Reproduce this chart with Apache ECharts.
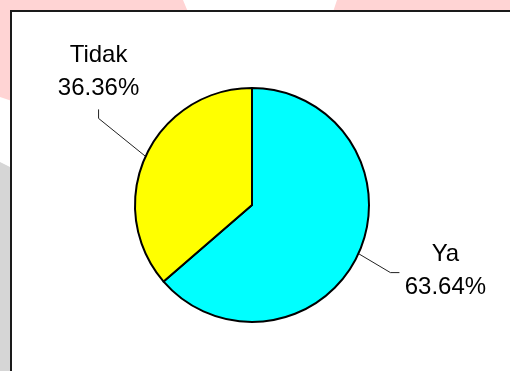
<!DOCTYPE html>
<html>
<head>
<meta charset="utf-8">
<script src="https://cdn.jsdelivr.net/npm/echarts@6/dist/echarts.min.js"></script>
<style>
  html, body { margin: 0; padding: 0; background: #fff; }
  #chart { width: 510px; height: 371px; }
</style>
</head>
<body>
<div id="chart"></div>
<script>
var categories = ['Ya', 'Tidak'];
var counts = [7, 4];
var sliceColors = ['#00ffff', '#ffff00'];

// leader line shape for each slice, relative to the slice's outer mid point
var leaderBend = [[32, 19], [-47, -38]];
var leaderEnd = [[41, 19], [-47, -47]];
var labelShift = [[46, -2], [0, -38]];

var pieCenter = [252, 205];
var pieRadius = 117;

function edgePoint(i) {
	var total = 0, before = 0;
	for (var j = 0; j < counts.length; j++) {
		total += counts[j];
		if (j < i) before += counts[j];
	}
	var mid = (90 - (before + counts[i] / 2) / total * 360) * Math.PI / 180;
	return [pieCenter[0] + pieRadius * Math.cos(mid), pieCenter[1] - pieRadius * Math.sin(mid)];
}

var chart = echarts.init(document.getElementById('chart'), null, { renderer: 'canvas' });

var option = {
	animation: false,
	graphic: [
		{ type: 'polygon', silent: true, shape: { points: [[0, 0], [183, 0], [188, 12], [12, 12], [12, 101], [0, 97]] }, style: { fill: '#ffd4d4' } },
		{ type: 'polygon', silent: true, shape: { points: [[337, 0], [510, 0], [510, 12], [333, 12]] }, style: { fill: '#ffd4d4' } },
		{ type: 'polygon', silent: true, shape: { points: [[0, 162], [12, 168], [12, 371], [0, 371]] }, style: { fill: '#d6d6d6' } },
		{ type: 'rect', silent: true, shape: { x: 11, y: 11, width: 520, height: 380 }, style: { fill: '#ffffff', stroke: '#1a1a1a', lineWidth: 2 } }
	],
	series: [{
		type: 'pie',
		center: pieCenter,
		radius: pieRadius,
		startAngle: 90,
		clockwise: true,
		data: categories.map(function(name, i) {
			return { name: name, value: counts[i], itemStyle: { color: sliceColors[i] } };
		}),
		itemStyle: { borderColor: '#000', borderWidth: 2 },
		emphasis: { disabled: true },
		label: {
			show: true,
			formatter: '{b}\n{d}%',
			fontFamily: 'Liberation Sans, Arial, sans-serif',
			fontSize: 24,
			lineHeight: 33,
			color: '#000'
		},
		labelLine: {
			show: true,
			lineStyle: { color: '#222', width: 1 }
		},
		labelLayout: function(params) {
			var i = params.dataIndex;
			var p0 = edgePoint(i);
			var p1 = [p0[0] + leaderBend[i][0], p0[1] + leaderBend[i][1]];
			var p2 = [p0[0] + leaderEnd[i][0], p0[1] + leaderEnd[i][1]];
			return {
				x: p2[0] + labelShift[i][0],
				y: p2[1] + labelShift[i][1],
				align: 'center',
				verticalAlign: 'middle',
				labelLinePoints: [p0, p1, p2]
			};
		}
	}]
};

chart.setOption(option);
</script>
</body>
</html>
